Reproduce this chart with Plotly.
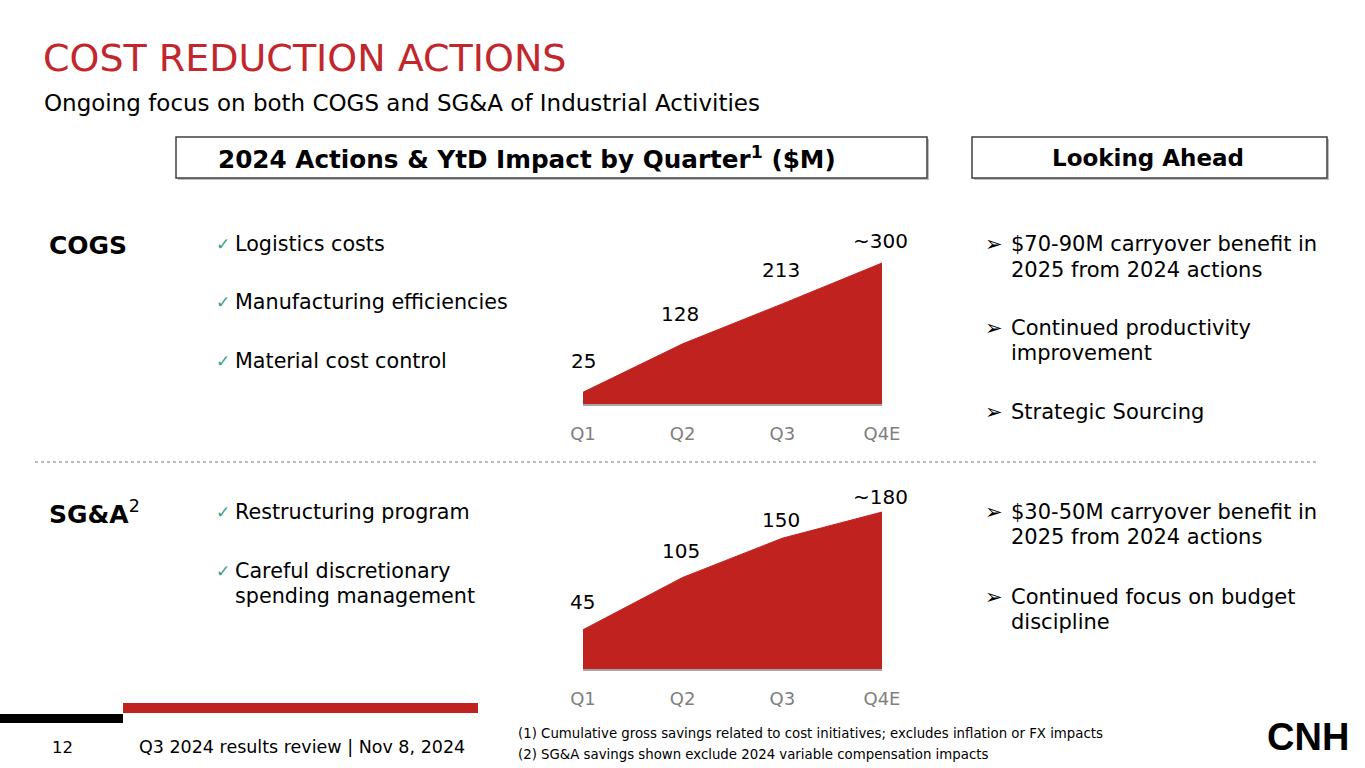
import plotly.graph_objects as go

W, H = 1365, 768

# ---------------- data ----------------
quarters = ["Q1", "Q2", "Q3", "Q4E"]
cogs_values = [25, 128, 213, 300]
cogs_labels = ["25", "128", "213", "~300"]
sga_values = [45, 105, 150, 180]
sga_labels = ["45", "105", "150", "~180"]

title = "COST REDUCTION ACTIONS"
subtitle = "Ongoing focus on both COGS and SG&A of Industrial Activities"
header_left = "2024 Actions & YtD Impact by Quarter<sup>1</sup> ($M)"
header_right = "Looking Ahead"
cogs_actions = ["Logistics costs", "Manufacturing efficiencies", "Material cost control"]
sga_actions = [["Restructuring program"], ["Careful discretionary", "spending management"]]
cogs_ahead = [["$70-90M carryover benefit in", "2025 from 2024 actions"],
              ["Continued productivity", "improvement"],
              ["Strategic Sourcing"]]
sga_ahead = [["$30-50M carryover benefit in", "2025 from 2024 actions"],
             ["Continued focus on budget", "discipline"]]
footnotes = ["(1) Cumulative gross savings related to cost initiatives; excludes inflation or FX impacts",
             "(2) SG&A savings shown exclude 2024 variable compensation impacts"]
page_no = "12"
footer_text = "Q3 2024 results review | Nov 8, 2024"

# ---------------- style ----------------
RED = "#C0231F"
TITLE_RED = "#C1272D"
GREEN = "#3E9E84"
GRAY = "#7F7F7F"
FONT = "DejaVu Sans, Verdana, sans-serif"
COND = "DejaVu Sans Condensed, Liberation Sans Narrow, DejaVu Sans, sans-serif"

cogs_shift = [(0, 31), (-3, 30), (-1, 34), (-2, 22)]
sga_shift = [(-1, 28), (-2, 26), (-1, 18), (-2, 15)]


def X(px):
    return px / W


def Y(py):
    return 1 - py / H


fig = go.Figure()
xs = list(range(len(quarters)))
fig.add_trace(go.Scatter(x=xs, y=cogs_values, mode="lines", fill="tozeroy",
                         fillcolor=RED, line=dict(color=RED, width=1),
                         xaxis="x", yaxis="y", hoverinfo="skip", showlegend=False))
fig.add_trace(go.Scatter(x=xs, y=sga_values, mode="lines", fill="tozeroy",
                         fillcolor=RED, line=dict(color=RED, width=1),
                         xaxis="x2", yaxis="y2", hoverinfo="skip", showlegend=False))

xaxis_common = dict(range=[0, len(quarters) - 1], tickvals=xs, ticktext=quarters,
                    showgrid=False, zeroline=False, showline=True, linecolor="#A6A6A6",
                    linewidth=2, ticks="", ticklabelstandoff=12, automargin=False,
                    tickfont=dict(family=FONT, size=18, color=GRAY), fixedrange=True)
yaxis_common = dict(showgrid=False, zeroline=False, showline=False, showticklabels=False,
                    automargin=False, fixedrange=True)

# COGS: 0 at y=404px, 0.47 px/unit ; SG&A: 0 at y=669px, 0.872 px/unit
fig.update_layout(
    width=W, height=H, autosize=False,
    margin=dict(l=0, r=0, t=0, b=0, pad=0, autoexpand=False),
    showlegend=False,
    paper_bgcolor="white", plot_bgcolor="rgba(0,0,0,0)",
    xaxis=dict(domain=[X(583), X(882)], anchor="y", **xaxis_common),
    yaxis=dict(domain=[Y(404), Y(404 - 320 * 0.47)], range=[0, 320], anchor="x", **yaxis_common),
    xaxis2=dict(domain=[X(583), X(882)], anchor="y2", **xaxis_common),
    yaxis2=dict(domain=[Y(669), Y(669 - 200 * 0.872)], range=[0, 200], anchor="x2", **yaxis_common),
)

ann = []
shapes = []

# data labels
for i, (v, lab) in enumerate(zip(cogs_values, cogs_labels)):
    ann.append(dict(x=i, y=v, xref="x", yref="y", text=lab, showarrow=False,
                    xshift=cogs_shift[i][0], yshift=cogs_shift[i][1],
                    font=dict(family=FONT, size=20, color="black")))
for i, (v, lab) in enumerate(zip(sga_values, sga_labels)):
    ann.append(dict(x=i, y=v, xref="x2", yref="y2", text=lab, showarrow=False,
                    xshift=sga_shift[i][0], yshift=sga_shift[i][1],
                    font=dict(family=FONT, size=20, color="black")))


def txt(x, y, s, size=20, color="black", bold=False, anchor="left", family=FONT):
    ann.append(dict(x=X(x), y=Y(y), xref="paper", yref="paper", text=s, showarrow=False,
                    xanchor=anchor, yanchor="middle",
                    font=dict(family=family, size=size, color=color,
                              weight="bold" if bold else "normal")))


# title
txt(41, 58, title, size=38, color=TITLE_RED)
txt(42, 103, subtitle, size=23)

# header boxes (box extents, text centre, font size)
for (x0, x1, cx, label, fs) in [(176, 927, 527, header_left, 24.7),
                                (972, 1327, 1148, header_right, 23)]:
    shapes.append(dict(type="rect", xref="paper", yref="paper", x0=X(x0 + 2), x1=X(x1 + 2),
                       y0=Y(180), y1=Y(139), line=dict(width=0), fillcolor="#BFBFBF", layer="below"))
    shapes.append(dict(type="rect", xref="paper", yref="paper", x0=X(x0), x1=X(x1),
                       y0=Y(178), y1=Y(137), line=dict(color="#404040", width=1.5),
                       fillcolor="white", layer="below"))
    txt(cx, 158, label, size=fs, bold=True, anchor="center")

# section labels
txt(47, 245, "COGS", size=25, bold=True)
txt(47, 512, "SG&A<span style='font-weight:normal'><sup>2</sup></span>", size=25, bold=True)

# left action bullets
for s, y in zip(cogs_actions, [244, 302, 361]):
    txt(214, y, "✓", size=17, color=GREEN)
    txt(233, y, s, size=20.7)
sga_y = [[512], [571, 596]]
for lines, ys in zip(sga_actions, sga_y):
    txt(214, ys[0], "✓", size=17, color=GREEN)
    for s, y in zip(lines, ys):
        txt(233, y, s, size=20.7)

# right "looking ahead" bullets
cogs_ahead_y = [[244, 270], [328, 353], [412]]
sga_ahead_y = [[512, 537], [597, 622]]
for group, ygroup in [(cogs_ahead, cogs_ahead_y), (sga_ahead, sga_ahead_y)]:
    for lines, ys in zip(group, ygroup):
        txt(983, ys[0], "➢", size=21)
        for s, y in zip(lines, ys):
            txt(1009, y, s, size=21)

# separator
shapes.append(dict(type="line", xref="paper", yref="paper", x0=X(35), x1=X(1318),
                   y0=Y(462), y1=Y(462), line=dict(color="#A6A6A6", width=1.5, dash="dot")))

# footer bars
shapes.append(dict(type="rect", xref="paper", yref="paper", x0=X(0), x1=X(123),
                   y0=Y(723), y1=Y(714), line=dict(width=0), fillcolor="black"))
shapes.append(dict(type="rect", xref="paper", yref="paper", x0=X(123), x1=X(478),
                   y0=Y(713), y1=Y(703), line=dict(width=0), fillcolor=RED))
txt(62, 747, page_no, size=16.5, anchor="center")
txt(137, 747, footer_text, size=17.5)

# footnotes
txt(516, 732, footnotes[0], size=14.8, family=COND)
txt(516, 753, footnotes[1], size=14.8, family=COND)

# logo
ann.append(dict(x=X(1308), y=Y(737), xref="paper", yref="paper", text="CNH", showarrow=False,
                xanchor="center", yanchor="middle",
                font=dict(family="Liberation Sans, Arial, sans-serif", size=38, color="black",
                          weight="bold")))

fig.update_layout(annotations=ann, shapes=shapes)
fig.write_html("out.html", config={"displayModeBar": False},
               post_script="document.body.style.margin='0';document.body.style.overflow='hidden';")
